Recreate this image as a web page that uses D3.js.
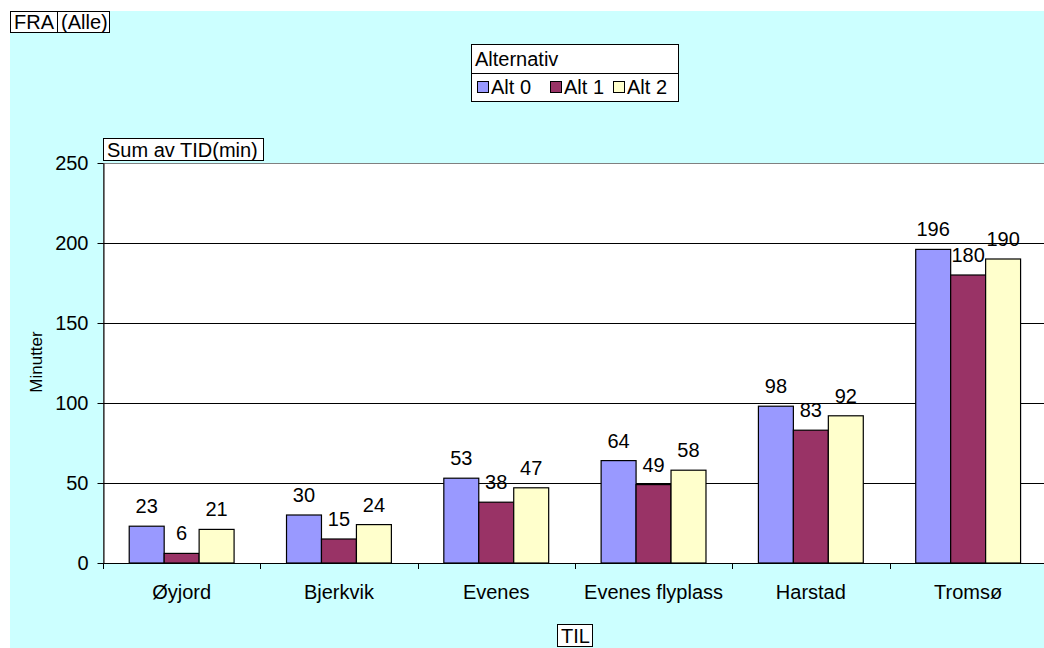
<!DOCTYPE html>
<html>
<head>
<meta charset="utf-8">
<script src="https://cdn.jsdelivr.net/npm/d3@7"></script>
<style>
  body { margin: 0; background: #fff; }
  svg { display: block; font-family: Arial, "Liberation Sans", sans-serif; }
</style>
</head>
<body>
<div id="chart"></div>
<script>
// data
const categories = ['Øyjord', 'Bjerkvik', 'Evenes', 'Evenes flyplass', 'Harstad', 'Tromsø'];
const seriesNames = ['Alt 0', 'Alt 1', 'Alt 2'];
const alt0 = [23, 30, 53, 64, 98, 196];
const alt1 = [6, 15, 38, 49, 83, 180];
const alt2 = [21, 24, 47, 58, 92, 190];
const yTicks = [0, 50, 100, 150, 200, 250];
const colors = ['#9999FF', '#993366', '#FFFFCC'];

const seriesValues = [alt0, alt1, alt2];
const rows = categories.map((c, i) => ({ cat: c, vals: seriesNames.map((s, j) => ({ s: s, j: j, v: seriesValues[j][i] })) }));

const width = 1044, height = 648;
const plot = { left: 103, right: 103 + 6 * 157.3, top: 163, bottom: 563 };

let svg = d3.select('#chart').append('svg')
    .attr('width', width)
    .attr('height', height);

// cyan chart area
svg.append('rect')
    .attr('x', 10).attr('y', 11)
    .attr('width', width - 10).attr('height', height - 11)
    .style('fill', '#CCFFFF');

// scales
let x = d3.scaleBand().domain(categories).range([plot.left, plot.right]).padding(0);
let bw = x.bandwidth();
let x1 = d3.scaleBand().domain(seriesNames).range([bw * 0.75 / 4.5 * 1, bw - bw * 0.75 / 4.5 * 1]).padding(0);
let y = d3.scaleLinear().domain([0, 250]).range([plot.bottom, plot.top]);

// plot area
svg.append('rect')
    .attr('x', plot.left).attr('y', plot.top)
    .attr('width', plot.right - plot.left).attr('height', plot.bottom - plot.top)
    .style('fill', '#fff')
    .style('stroke', '#808080')
    .style('shape-rendering', 'crispEdges');

// gridlines
svg.append('g').selectAll('line')
    .data(yTicks.filter(d => d > 0 && d < 250))
    .enter().append('line')
    .attr('x1', plot.left).attr('x2', plot.right)
    .attr('y1', d => Math.round(y(d)) + 0.5).attr('y2', d => Math.round(y(d)) + 0.5)
    .style('stroke', '#000');

// y axis
let yAxis = svg.append('g')
    .attr('transform', `translate(${plot.left + 0.5},0)`)
    .call(d3.axisLeft(y).tickValues(yTicks).tickSize(6).tickPadding(9).tickSizeOuter(0));
yAxis.select('.domain').style('stroke', '#000');
yAxis.selectAll('.tick line').style('stroke', '#000');
yAxis.selectAll('.tick text')
    .style('font-size', '20px')
    .style('font-family', 'Arial, "Liberation Sans", sans-serif')
    .style('fill', '#000');

// x axis line and category ticks
svg.append('line')
    .attr('x1', plot.left).attr('x2', plot.right)
    .attr('y1', plot.bottom + 0.5).attr('y2', plot.bottom + 0.5)
    .style('stroke', '#000');
let boundaries = categories.map(c => x(c)).concat([plot.right]);
svg.append('g').selectAll('line')
    .data(boundaries)
    .enter().append('line')
    .attr('x1', d => Math.round(d) + 0.5).attr('x2', d => Math.round(d) + 0.5)
    .attr('y1', plot.bottom).attr('y2', plot.bottom + 6)
    .style('stroke', '#000');
svg.append('g').selectAll('text')
    .data(categories)
    .enter().append('text')
    .attr('x', d => x(d) + bw / 2)
    .attr('y', 599)
    .attr('text-anchor', 'middle')
    .style('font-size', '20px')
    .text(d => d);

// bars
let groups = svg.append('g').selectAll('g')
    .data(rows)
    .enter().append('g')
    .attr('transform', d => `translate(${x(d.cat)},0)`);
groups.selectAll('rect')
    .data(d => d.vals)
    .enter().append('rect')
    .attr('x', d => x1(d.s))
    .attr('y', d => y(d.v))
    .attr('width', x1.bandwidth())
    .attr('height', d => y(0) - y(d.v))
    .style('fill', d => colors[d.j])
    .style('stroke', '#000')
    .style('stroke-width', 1.2);
groups.selectAll('text')
    .data(d => d.vals)
    .enter().append('text')
    .attr('x', d => x1(d.s) + x1.bandwidth() / 2)
    .attr('y', d => y(d.v) - 13)
    .attr('text-anchor', 'middle')
    .style('font-size', '20px')
    .text(d => d.v);

// y axis title
svg.append('text')
    .attr('transform', 'translate(42,362) rotate(-90)')
    .attr('text-anchor', 'middle')
    .style('font-size', '17px')
    .text('Minutter');

// field buttons
function fieldBox(x0, y0, w, h, label) {
    svg.append('rect')
        .attr('x', x0 + 0.5).attr('y', y0 + 0.5)
        .attr('width', w).attr('height', h)
        .style('fill', '#fff')
        .style('stroke', '#000');
    svg.append('text')
        .attr('x', x0 + 4).attr('y', y0 + h - 3)
        .style('font-size', '20px')
        .text(label);
}
fieldBox(10, 11, 47, 21, 'FRA');
fieldBox(57, 11, 52, 21, '(Alle)');
fieldBox(103, 138, 160, 22, 'Sum av TID(min)');
fieldBox(557, 624, 35, 22, 'TIL');

// legend
let legend = svg.append('g').attr('transform', 'translate(471,44)');
legend.append('rect')
    .attr('x', 0.5).attr('y', 0.5)
    .attr('width', 207).attr('height', 57)
    .style('fill', '#fff')
    .style('stroke', '#000');
legend.append('line')
    .attr('x1', 0).attr('x2', 207)
    .attr('y1', 29.5).attr('y2', 29.5)
    .style('stroke', '#000');
legend.append('text')
    .attr('x', 4).attr('y', 22)
    .style('font-size', '20px')
    .text('Alternativ');
const legendX = [6, 79, 142];
seriesNames.forEach((s, j) => {
    legend.append('rect')
        .attr('x', legendX[j] + 0.5).attr('y', 37.5)
        .attr('width', 11).attr('height', 11)
        .style('fill', colors[j])
        .style('stroke', '#000');
    legend.append('text')
        .attr('x', legendX[j] + 14).attr('y', 50)
        .style('font-size', '20px')
        .text(s);
});
</script>
</body>
</html>
